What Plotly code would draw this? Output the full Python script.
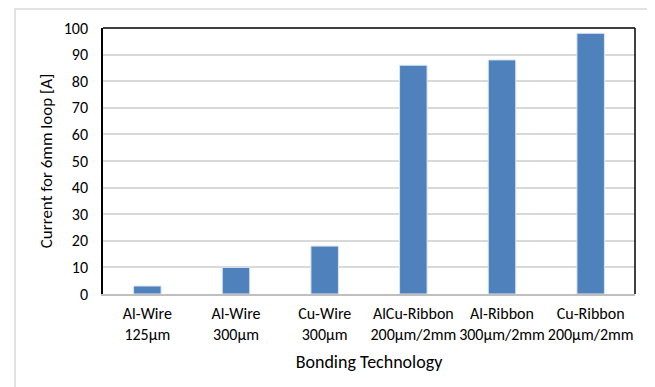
import plotly.graph_objects as go

categories = ["Al-Wire<br>125µm", "Al-Wire<br>300µm", "Cu-Wire<br>300µm",
              "AlCu-Ribbon<br>200µm/2mm", "Al-Ribbon<br>300µm/2mm", "Cu-Ribbon<br>200µm/2mm"]
current_values = [3, 10, 18, 86, 88, 98]
y_ticks = [0, 10, 20, 30, 40, 50, 60, 70, 80, 90, 100]

FONT = "Carlito, Calibri, Lato, sans-serif"

fig = go.Figure(go.Bar(
    x=categories, y=current_values,
    marker=dict(color="#4F81BD", line=dict(color="#dbe5f1", width=1)),
))

# page body has an 8px margin; figure is placed at (8, 8) on screen
OFF = 8
L, R, T, B = 103 - OFF, 20, 28 - OFF, 93
W, H = 655 - OFF, 387 - OFF
PL, PT, PB = 103, 28, 294   # plot area on screen
pw, ph = 532, 266

def px(x):
    return (x - PL) / pw

def py(y):
    return (PB - y) / ph

fig.update_layout(
    width=W, height=H,
    margin=dict(l=L, r=R, t=T, b=B),
    paper_bgcolor="white", plot_bgcolor="white",
    bargap=0.69,
    showlegend=False,
    font=dict(family=FONT, size=15, color="#000"),
    xaxis=dict(
        showgrid=False, showline=True, linecolor="#bfbfbf", linewidth=2,
        tickfont=dict(size=16, family=FONT), ticks="", ticklabelstandoff=4,
        title=dict(text="Bonding Technology", font=dict(size=18, family=FONT), standoff=12),
    ),
    yaxis=dict(
        range=[0, 100], tickvals=y_ticks, showgrid=True, gridcolor="#d9d9d9", gridwidth=1.5,
        showline=True, linecolor="#000", linewidth=1.5, zeroline=False,
        ticks="", ticklabelstandoff=10,
        tickfont=dict(size=16, family=FONT),
        title=dict(text="Current for 6mm loop [A]", font=dict(size=17, family=FONT), standoff=7),
    ),
    shapes=[
        dict(type="rect", xref="paper", yref="paper", x0=px(15), x1=px(653), y0=py(400), y1=py(9),
             line=dict(color="#d9d9d9", width=1.5), layer="below"),
        dict(type="line", xref="paper", yref="paper", x0=0, x1=1, y0=1, y1=1,
             line=dict(color="#000", width=1.5)),
        dict(type="line", xref="paper", yref="paper", x0=1, x1=1, y0=0, y1=1,
             line=dict(color="#000", width=1.5)),
    ],
)

fig.write_html("out.html")
